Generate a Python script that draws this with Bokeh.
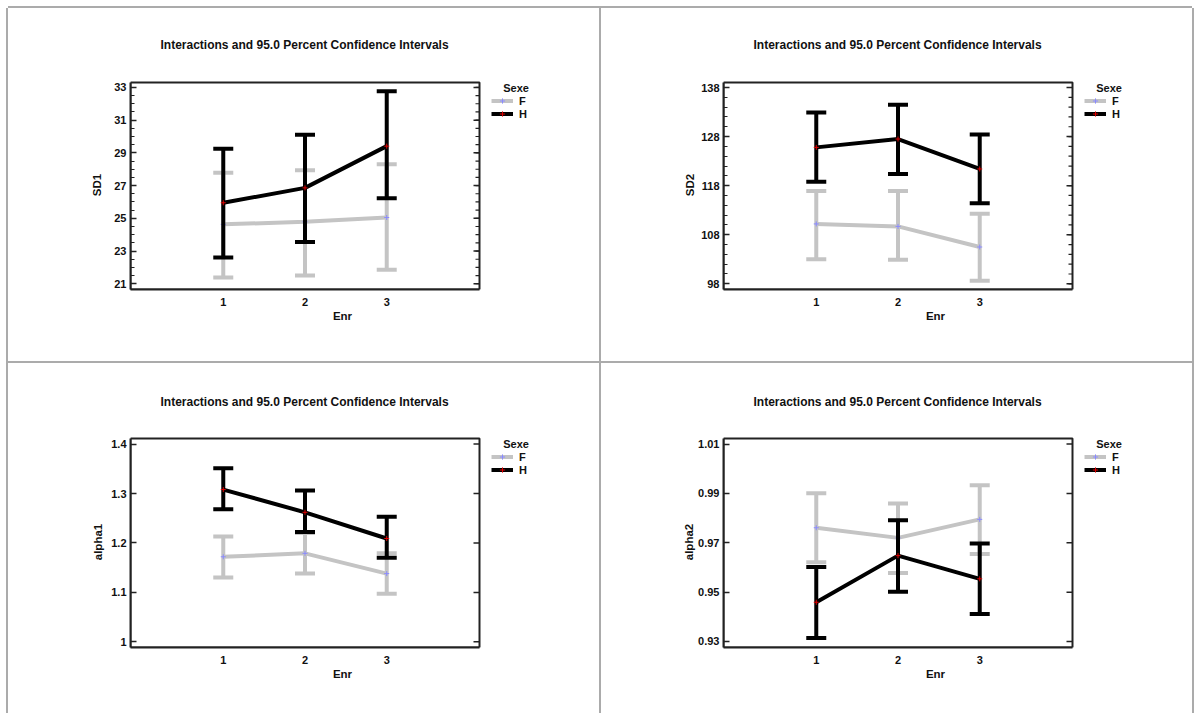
import numpy as np
from bokeh.plotting import figure
from bokeh.models import (ColumnDataSource, FixedTicker, Range1d,
                          Legend, LegendItem, Spacer)
from bokeh.layouts import gridplot, row, column
from bokeh.embed import file_html
from bokeh.resources import INLINE

# ---------------- data ----------------
enr = [1, 2, 3]
enr_labels = ["1", "2", "3"]
sexe = ["F", "H"]
title_text = "Interactions and 95.0 Percent Confidence Intervals"

sd1_F_mean = [24.63, 24.79, 25.05]
sd1_F_low = [21.38, 21.51, 21.85]
sd1_F_high = [27.79, 27.93, 28.30]
sd1_H_mean = [25.95, 26.86, 29.41]
sd1_H_low = [22.60, 23.55, 26.23]
sd1_H_high = [29.25, 30.10, 32.76]
sd1_ticks = [21, 23, 25, 27, 29, 31, 33]
sd1_tick_labels = ["21", "23", "25", "27", "29", "31", "33"]

sd2_F_mean = [110.2, 109.7, 105.5]
sd2_F_low = [103.0, 102.9, 98.6]
sd2_F_high = [116.9, 116.9, 112.3]
sd2_H_mean = [125.8, 127.5, 121.4]
sd2_H_low = [118.8, 120.4, 114.4]
sd2_H_high = [132.9, 134.5, 128.4]
sd2_ticks = [98, 108, 118, 128, 138]
sd2_tick_labels = ["98", "108", "118", "128", "138"]

alpha1_F_mean = [1.172, 1.179, 1.138]
alpha1_F_low = [1.130, 1.138, 1.097]
alpha1_F_high = [1.213, 1.220, 1.179]
alpha1_H_mean = [1.308, 1.262, 1.209]
alpha1_H_low = [1.268, 1.222, 1.170]
alpha1_H_high = [1.351, 1.306, 1.253]
alpha1_ticks = [1.0, 1.1, 1.2, 1.3, 1.4]
alpha1_tick_labels = ["1", "1.1", "1.2", "1.3", "1.4"]

alpha2_F_mean = [0.9761, 0.9720, 0.9795]
alpha2_F_low = [0.9621, 0.9578, 0.9655]
alpha2_F_high = [0.9901, 0.9859, 0.9933]
alpha2_H_mean = [0.9459, 0.9648, 0.9554]
alpha2_H_low = [0.9314, 0.9502, 0.9411]
alpha2_H_high = [0.9602, 0.9791, 0.9697]
alpha2_ticks = [0.93, 0.95, 0.97, 0.99, 1.01]
alpha2_tick_labels = ["0.93", "0.95", "0.97", "0.99", "1.01"]

# ---------------- style / layout ----------------
FONT = "Liberation Sans"
GRAY = "#c4c4c4"
BLACK = "#000000"
TXT = "#111111"
TICK = "#222222"
SEP = "#ababab"
X_START, X_END = -0.135, 4.135   # visible plot box in x
FW = 349                          # plot box width in px
EXTRA_W = 75                      # room inside the frame for the legend
PPX = FW / (X_END - X_START)


def panel(ylabel, ticks, tick_labels, minor_step, y_range, F, H, fh,
          mb, ylabel_standoff, title_standoff, legend_y, shadow):
    y0, y1 = y_range
    ppy = fh / (y1 - y0)
    fw_ext = FW + EXTRA_W
    p = figure(frame_width=fw_ext, frame_height=fh + 2, output_backend="svg", toolbar_location=None,
               x_range=Range1d(X_START, X_START + fw_ext / PPX),
               y_range=Range1d(y0, y1 + 2 / ppy),
               min_border_left=mb[0], min_border_right=mb[1] - EXTRA_W,
               min_border_top=mb[2] - 2, min_border_bottom=mb[3],
               background_fill_color="white", border_fill_color="white",
               styles={"box-shadow": shadow})
    p.xgrid.visible = False
    p.ygrid.visible = False
    p.outline_line_color = None

    p.title.text = title_text
    p.title.align = "left"
    p.title.offset = 30
    p.title.vertical_align = "top"
    p.title.text_font = FONT
    p.title.text_font_size = "12px"
    p.title.text_font_style = "bold"
    p.title.text_color = TXT
    p.title.standoff = title_standoff

    minor = list(np.arange(y0 - y0 % minor_step, y1, minor_step)) if minor_step else []
    minor = [m for m in minor if y0 < m < y1]
    ticker = FixedTicker(ticks=ticks, minor_ticks=minor)

    ya = p.yaxis[0]
    ya.ticker = ticker
    ya.bounds = (y0, y1)
    ya.major_label_overrides = {t: l for t, l in zip(ticks, tick_labels)}
    ya.axis_line_color = TICK
    ya.axis_line_width = 2
    ya.major_tick_in = 6
    ya.major_tick_out = 0
    ya.minor_tick_in = 4
    ya.minor_tick_out = 0
    ya.major_tick_line_width = 1.5
    ya.minor_tick_line_width = 1.2
    ya.major_tick_line_color = TICK
    ya.minor_tick_line_color = TICK
    ya.major_label_standoff = 4
    ya.major_label_text_font = FONT
    ya.major_label_text_font_size = "11px"
    ya.major_label_text_font_style = "bold"
    ya.major_label_text_color = TXT
    ya.axis_label = ylabel
    ya.axis_label_text_font = FONT
    ya.axis_label_text_font_size = "11.5px"
    ya.axis_label_text_font_style = "bold"
    ya.axis_label_text_color = TXT
    ya.axis_label_standoff = ylabel_standoff

    xa = p.xaxis[0]
    xa.ticker = FixedTicker(ticks=enr)
    xa.bounds = (X_START, X_END)
    xa.major_label_overrides = {e: l for e, l in zip(enr, enr_labels)}
    xa.axis_line_color = TICK
    xa.axis_line_width = 2
    xa.major_tick_in = 0
    xa.major_tick_out = 0
    xa.minor_tick_in = 0
    xa.minor_tick_out = 0
    xa.major_label_standoff = 8
    xa.major_label_text_font = FONT
    xa.major_label_text_font_size = "11px"
    xa.major_label_text_font_style = "bold"
    xa.major_label_text_color = TXT
    xa.axis_label = "Enr"
    xa.axis_label_text_font = FONT
    xa.axis_label_text_font_size = "11.5px"
    xa.axis_label_text_font_style = "bold"
    xa.axis_label_text_color = TXT
    xa.axis_label_standoff = 1

    items = []
    for name, (mean, low, high), color, mcolor in (("F", F, GRAY, "#8a8aff"), ("H", H, BLACK, "#e00000")):
        src = ColumnDataSource(dict(x=enr, mean=mean, low=low, high=high))
        p.segment(x0="x", y0="low", x1="x", y1="high", source=src, line_color=color, line_width=4)
        p.scatter(x="x", y="low", source=src, marker="dash", size=20, line_color=color, line_width=4)
        p.scatter(x="x", y="high", source=src, marker="dash", size=20, line_color=color, line_width=4)
        ln = p.line(x="x", y="mean", source=src, line_color=color, line_width=4)
        mk = p.scatter(x="x", y="mean", source=src, marker="cross", size=5, line_color=mcolor, line_width=1)
        items.append(LegendItem(label=name, renderers=[ln, mk]))

    # plot box and inward ticks along its right edge
    p.quad(left=[X_START], right=[X_END], bottom=[y0], top=[y1],
           fill_color=None, line_color=TICK, line_width=2)
    p.segment(x0=[X_END] * len(ticks), x1=[X_END - 6 / PPX] * len(ticks), y0=ticks, y1=ticks,
              line_color=TICK, line_width=1.5)
    if minor:
        p.segment(x0=[X_END] * len(minor), x1=[X_END - 4 / PPX] * len(minor), y0=minor, y1=minor,
                  line_color=TICK, line_width=1.2)

    legend = Legend(items=items, title="\u00a0\u00a0\u00a0\u00a0Sexe", location=(FW + 12, legend_y),
                    title_text_font=FONT, title_text_font_size="11px", title_text_font_style="bold",
                    title_text_color=TXT, title_standoff=0,
                    label_text_font=FONT, label_text_font_size="11px", label_text_font_style="bold",
                    label_text_color=TXT,
                    glyph_width=22, glyph_height=13, label_height=13, label_standoff=6,
                    spacing=0, padding=0, margin=0,
                    border_line_color=None, background_fill_alpha=0)
    p.add_layout(legend, "center")
    return p


TL_SHADOW = f"-2px 0 0 0 {SEP}, 0 -2px 0 0 {SEP}"
TR_SHADOW = f"-2px 0 0 0 {SEP}, 0 -2px 0 0 {SEP}, 2px 0 0 0 {SEP}"

p1 = panel("SD1", sd1_ticks, sd1_tick_labels, 0.5, (20.65, 33.30),
           (sd1_F_mean, sd1_F_low, sd1_F_high), (sd1_H_mean, sd1_H_low, sd1_H_high),
           207, (122, 122, 74, 74), 8, 54, 169, TL_SHADOW)
p2 = panel("SD2", sd2_ticks, sd2_tick_labels, 2, (96.84, 139.02),
           (sd2_F_mean, sd2_F_low, sd2_F_high), (sd2_H_mean, sd2_H_low, sd2_H_high),
           207, (122, 120, 74, 74), 2, 54, 169, TR_SHADOW)
p3 = panel("alpha1", alpha1_ticks, alpha1_tick_labels, None, (0.9885, 1.4113),
           (alpha1_F_mean, alpha1_F_low, alpha1_F_high), (alpha1_H_mean, alpha1_H_low, alpha1_H_high),
           209, (122, 122, 75, 66), 4, 52, 171, TL_SHADOW)
p4 = panel("alpha2", alpha2_ticks, alpha2_tick_labels, None, (0.92756, 1.01228),
           (alpha2_F_mean, alpha2_F_low, alpha2_F_high), (alpha2_H_mean, alpha2_H_low, alpha2_H_high),
           209, (122, 120, 75, 66), 0, 52, 171, TR_SHADOW)

grid = gridplot([[p1, p2], [p3, p4]], toolbar_location=None)
page = column(Spacer(height=8), row(Spacer(width=8), grid))

open("out.html", "w").write(file_html(page, INLINE))
